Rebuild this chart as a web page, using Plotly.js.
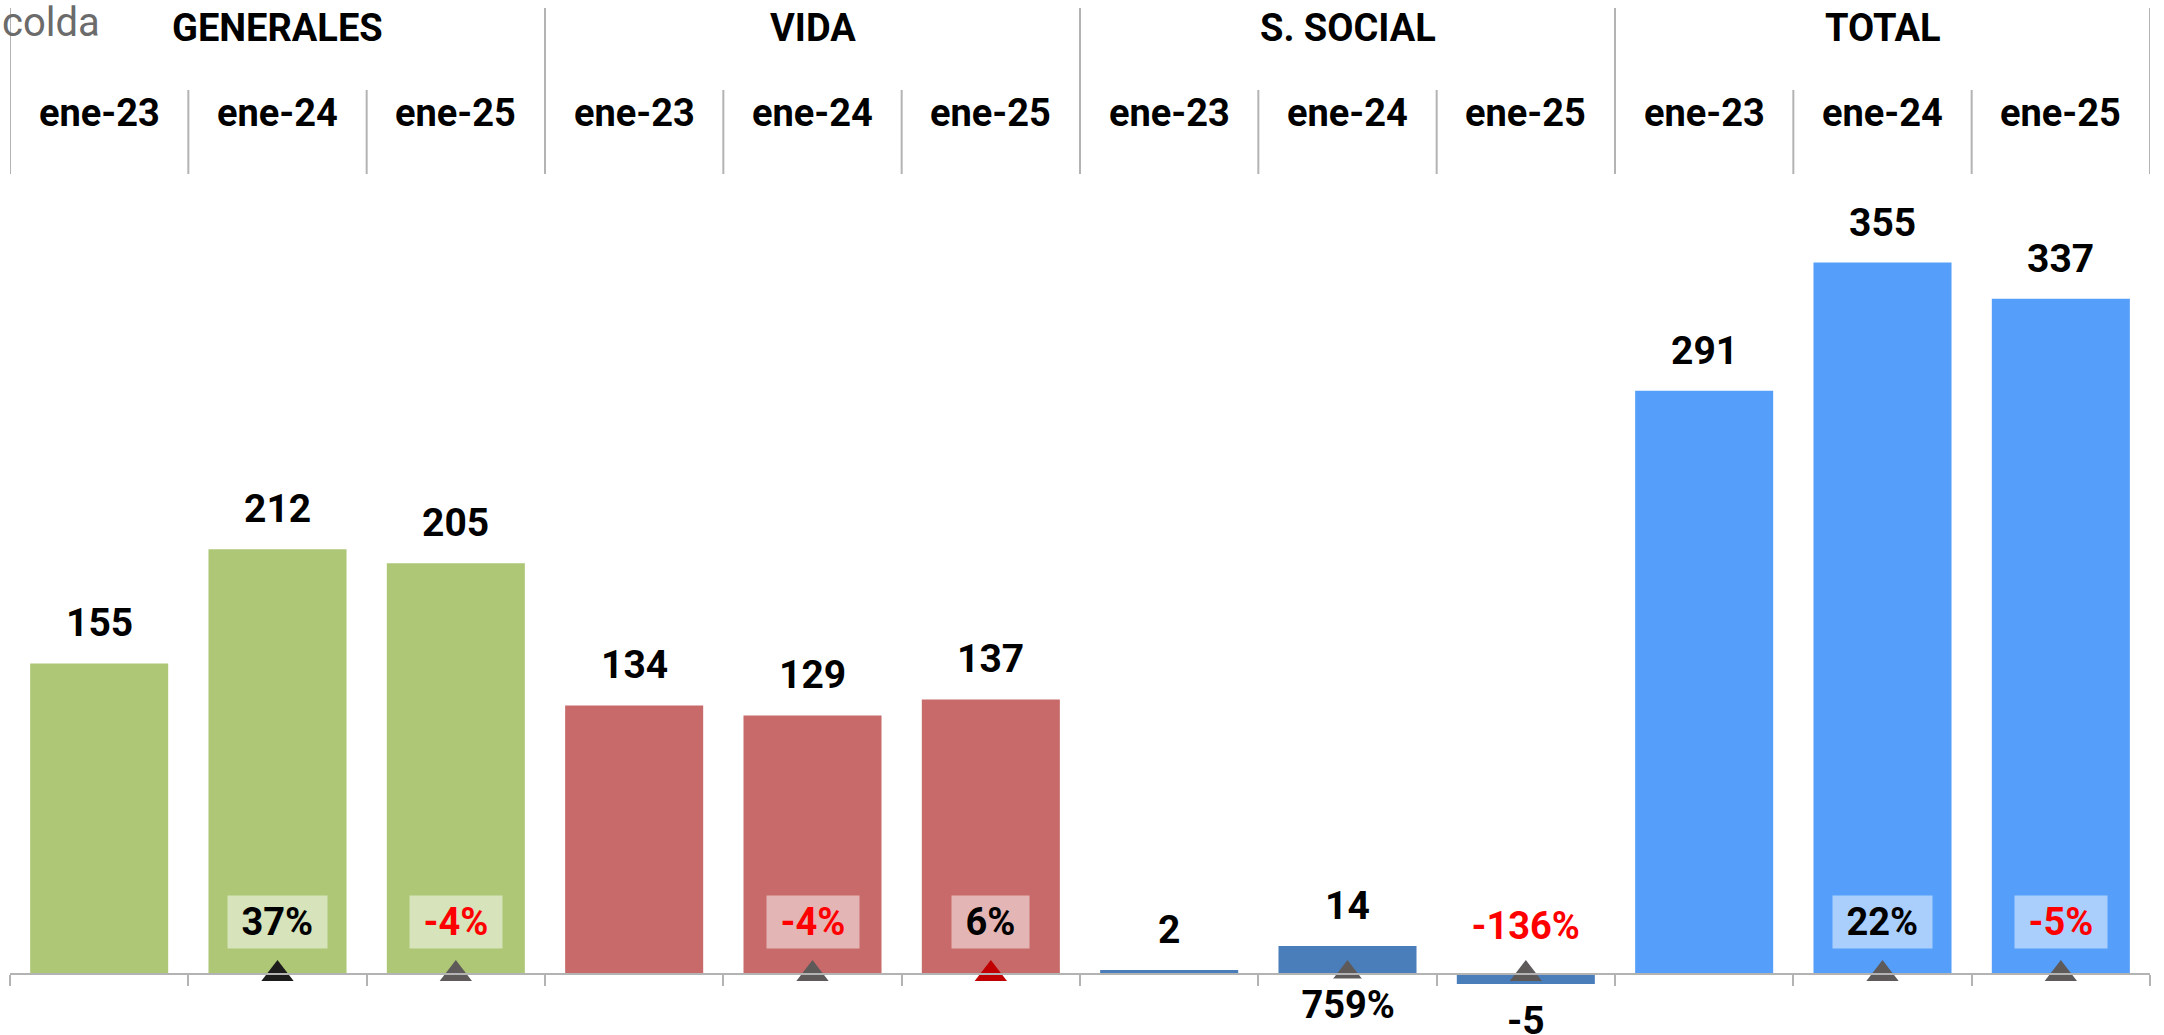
<!DOCTYPE html>
<html><head><meta charset="utf-8">
<script src="https://cdn.plot.ly/plotly-3.0.1.min.js"></script>
<style>html,body{margin:0;padding:0;background:#fff;overflow:hidden;} #chart{width:2164px;height:1035px;}</style>
</head><body><div id="chart"></div>
<script>
// ---------------- data ----------------
const chartTitle = 'colda';
const groups = ['GENERALES', 'VIDA', 'S. SOCIAL', 'TOTAL'];
const periods = ['ene-23', 'ene-24', 'ene-25'];
const generales = [155, 212, 205];
const vida = [134, 129, 137];
const social = [2, 14, -5];
const total = [291, 355, 337];
const generalesPct = [null, 37, -4];
const vidaPct = [null, -4, 6];
const socialPct = [null, 759, -136];
const totalPct = [null, 22, -5];

// ---------------- style ----------------
const W = 2164, H = 1035;
const baselinePx = 974, pxPerUnit = 2.004;
const groupColors = ['#ADC776', '#C96A6A', '#4A7EBB', '#559FFB'];
const markerColors = [
  [null, '#1C1C1C', '#5E5A5A'],
  [null, '#5E5A5A', '#C00000'],
  [null, '#5E5A5A', '#5E5A5A'],
  [null, '#5E5A5A', '#5E5A5A']
];
const FONT = 'Roboto, "Noto Sans", sans-serif';
const FS = 38;
const lineColor = '#B3B3B3';

// ---------------- build ----------------
const seriesVals = [generales, vida, social, total];
const seriesPct = [generalesPct, vidaPct, socialPct, totalPct];
const cats = [], vals = [], pcts = [], colors = [], mcolors = [];
groups.forEach((g, gi) => periods.forEach((p, pi) => {
  cats.push(g + ' | ' + p);
  vals.push(seriesVals[gi][pi]);
  pcts.push(seriesPct[gi][pi]);
  colors.push(groupColors[gi]);
  mcolors.push(markerColors[gi][pi]);
}));

const nb = '\u00A0';
const annotations = [];
// value labels
vals.forEach((v, i) => {
  annotations.push({
    x: cats[i], y: v, xref: 'x', yref: 'y', showarrow: false,
    text: String(v), yanchor: 'middle', yshift: v >= 0 ? 40 : -37,
    font: {family: FONT, size: 39, color: '#000', weight: 700}
  });
});
// percent labels
pcts.forEach((p, i) => {
  if (p === null) return;
  const v = vals[i];
  const below = v > 0 && v * pxPerUnit < 80;
  annotations.push({
    x: cats[i], y: 0, xref: 'x', yref: 'y', showarrow: false,
    text: nb + p + '%' + nb, yanchor: 'middle', yshift: below ? -31 : (v < 0 ? 48 : 52),
    bgcolor: below ? '#FFFFFF' : 'rgba(255,255,255,0.5)', borderpad: 4,
    font: {family: FONT, size: FS, color: p < 0 ? '#FF0000' : '#000000', weight: 700}
  });
});
// header: group labels
groups.forEach((g, gi) => {
  annotations.push({
    x: gi * periods.length + (periods.length - 1) / 2, y: 1 - 28 / H,
    xref: 'x', yref: 'paper', showarrow: false, text: g,
    yanchor: 'middle', font: {family: FONT, size: FS, color: '#000', weight: 700}
  });
});
// header: period labels
cats.forEach((c, i) => {
  annotations.push({
    x: c, y: 1 - 113 / H, xref: 'x', yref: 'paper', showarrow: false,
    text: periods[i % periods.length], yanchor: 'middle',
    font: {family: FONT, size: FS, color: '#000', weight: 700}
  });
});
// title
annotations.push({
  x: 0, y: 1 - 22 / H, xref: 'paper', yref: 'paper', xanchor: 'left', yanchor: 'middle',
  showarrow: false, text: chartTitle,
  font: {family: FONT, size: 40, color: '#6B6B6B', weight: 400}
});

// header dividers
const shapes = [];
for (let k = 0; k <= cats.length; k++) {
  const isGroup = k % periods.length === 0;
  shapes.push({
    type: 'line', xref: 'x', yref: 'paper', x0: k - 0.5, x1: k - 0.5,
    y0: 1 - 174 / H, y1: 1 - (isGroup ? 8 : 90) / H,
    line: {color: lineColor, width: 2}
  });
}

const bars = {
  type: 'bar', x: cats, y: vals, marker: {color: colors, line: {width: 0}},
  hoverinfo: 'skip', showlegend: false
};
const mk = pcts.map((p, i) => p === null ? null : i).filter(i => i !== null);
const arrows = {
  type: 'scatter', mode: 'markers', x: mk.map(i => cats[i]), y: mk.map(() => 0),
  marker: {symbol: 'triangle-up', size: 28, color: mk.map(i => mcolors[i]), line: {width: 0}},
  cliponaxis: false, hoverinfo: 'skip', showlegend: false
};

const layout = {
  width: W, height: H, margin: {l: 0, r: 0, t: 0, b: 0},
  paper_bgcolor: '#fff', plot_bgcolor: 'rgba(0,0,0,0)',
  bargap: 0.226,
  xaxis: {
    type: 'category', domain: [10 / W, 2150 / W], range: [-0.5, cats.length - 0.5],
    anchor: 'free', position: 1 - baselinePx / H,
    showline: true, linecolor: lineColor, linewidth: 2,
    ticks: 'outside', tickson: 'boundaries', ticklen: 11, tickcolor: lineColor, tickwidth: 2,
    showticklabels: false, showgrid: false, zeroline: false, fixedrange: true
  },
  yaxis: {
    range: [-(H - baselinePx) / pxPerUnit, baselinePx / pxPerUnit],
    visible: false, showgrid: false, zeroline: false, fixedrange: true
  },
  annotations: annotations, shapes: shapes
};

Plotly.newPlot('chart', [bars, arrows], layout, {displayModeBar: false, staticPlot: true});
</script>
</body></html>
